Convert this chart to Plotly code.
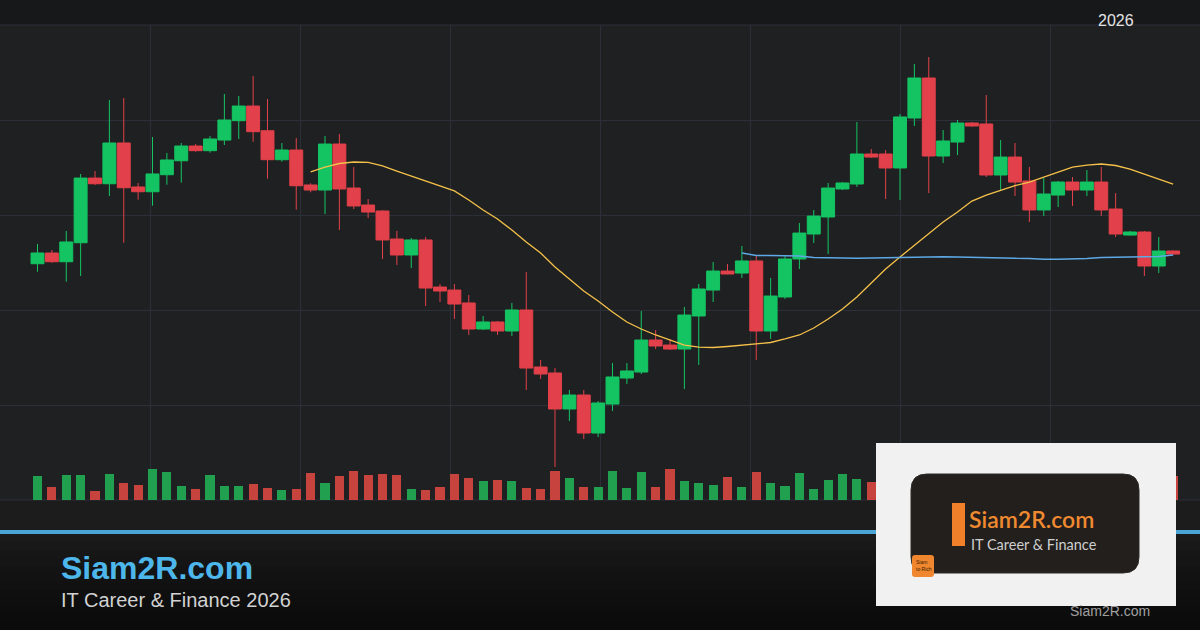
import plotly.graph_objects as go

# ---------------- data ----------------
candle_index = list(range(80))
open_ = [114.87,116.00,115.08,117.08,123.89,123.29,127.58,122.95,122.45,124.24,
         125.71,127.26,126.77,127.89,129.93,131.47,128.87,125.82,126.84,123.16,
         122.63,127.47,122.84,121.05,120.42,117.47,115.79,117.37,112.42,112.10,
         110.74,108.00,108.74,107.79,110.00,104.00,103.37,99.58,101.05,97.05,
         100.10,102.84,103.47,106.84,106.31,105.89,109.37,112.10,114.10,113.89,
         115.16,107.79,111.37,115.37,118.00,119.79,122.74,123.26,126.42,126.42,
         124.95,130.21,134.42,126.21,127.68,129.68,129.58,124.21,126.10,123.58,
         120.53,122.10,123.47,122.63,123.47,120.63,117.89,118.21,114.63,116.21]
high_ = [116.95,116.32,118.32,124.32,124.63,132.10,132.31,123.37,128.21,126.53,
         127.58,127.47,128.31,132.74,132.53,134.63,132.21,127.58,128.10,123.34,
         128.31,128.53,125.05,121.68,120.50,118.32,117.58,117.68,112.74,112.74,
         111.58,109.37,108.84,110.74,114.00,104.74,103.89,101.58,101.58,100.42,
         104.42,104.42,109.89,107.89,106.95,110.31,112.74,115.05,114.84,116.74,
         115.79,113.37,115.68,119.16,120.53,123.37,123.47,129.79,126.95,126.84,
         130.63,135.89,136.63,128.95,130.00,129.79,132.63,127.89,127.58,125.05,
         123.89,123.58,124.00,124.74,125.05,122.31,118.32,118.32,117.68,116.26]
low_ = [114.03,114.98,112.98,113.58,123.16,122.00,117.08,121.61,120.98,123.19,
        123.40,126.66,126.56,127.37,128.00,127.71,123.82,125.61,120.56,122.39,
        120.10,118.42,120.63,119.68,115.37,114.74,114.42,110.42,110.84,109.05,
        107.37,107.89,107.37,107.26,101.58,102.74,93.47,98.32,96.42,96.63,
        99.37,102.21,103.26,105.89,105.79,101.68,104.21,110.84,113.75,113.37,
        104.74,106.95,111.16,114.31,117.05,115.89,122.63,122.95,126.00,121.68,
        121.58,129.37,122.31,125.47,126.31,129.30,124.00,122.63,122.00,119.26,
        119.89,120.84,120.95,122.00,119.89,117.68,117.84,113.58,113.89,115.84]
close_ = [116.00,115.08,117.16,123.89,123.29,127.58,122.87,122.45,124.32,125.79,
          127.26,126.77,128.00,130.00,131.47,128.77,125.82,126.84,123.08,122.63,
          127.47,122.74,120.95,120.31,117.37,115.79,117.37,112.31,112.00,110.63,
          108.00,108.74,107.79,110.00,103.89,103.26,99.58,101.05,97.05,100.21,
          102.95,103.58,106.84,106.21,105.89,109.47,112.21,114.10,113.79,115.16,
          107.79,111.47,115.37,118.10,119.89,122.84,123.37,126.42,126.10,124.95,
          130.32,134.42,126.21,127.79,129.68,129.37,124.21,126.10,123.47,120.53,
          122.21,123.47,122.63,123.47,120.53,118.00,118.21,114.63,116.21,115.89]
volume_k = [240,130,250,250,90,260,170,150,310,280,
            140,110,250,140,140,160,120,100,110,270,
            170,240,290,250,260,250,110,100,130,260,
            220,190,200,190,120,110,290,220,130,130,
            290,120,280,130,310,190,170,150,230,130,
            280,170,140,270,110,200,260,210,180,220,
            270,300,310,150,180,100,240,140,200,230,
            160,140,120,110,130,220,140,260,170,240]
ma_slow_start = 19
ma_slow = [124.53,125.05,125.42,125.58,125.53,125.16,124.63,124.10,123.58,123.05,
           122.53,121.58,120.53,119.58,118.42,117.16,116.00,114.53,113.26,112.00,
           110.95,109.79,108.74,108.00,107.37,106.84,106.31,106.10,106.05,106.16,
           106.31,106.42,106.58,106.95,107.37,108.10,109.05,110.10,111.37,112.84,
           114.31,115.58,116.84,118.10,119.26,120.31,121.47,122.10,122.63,123.10,
           123.47,124.00,124.53,125.05,125.26,125.37,125.21,124.84,124.31,123.79,
           123.26]
ma_long_start = 49
ma_long = [116.00,115.74,115.74,115.74,115.68,115.53,115.47,115.47,115.44,115.47,
           115.53,115.53,115.58,115.61,115.61,115.58,115.53,115.47,115.44,115.44,
           115.42,115.34,115.34,115.37,115.42,115.53,115.58,115.61,115.61,115.63,
           115.79]

year_label = "2026"
brand = "Siam2R.com"
tagline = "IT Career & Finance 2026"
logo_tag = "IT Career & Finance"

# ---------------- styles ----------------
W, H = 1200, 630
GREEN = "#14c463"
RED = "#e2404a"
VGREEN = "#21a04f"
VRED = "#c6433e"
GRID = "#2b2f38"
BG = "#1f2021"


def X(px):
    return px / W


def Y(py):
    return 1 - py / H


fig = go.Figure()

vol_colors = [VGREEN if c >= o else VRED for o, c in zip(open_, close_)]
fig.add_trace(go.Bar(x=candle_index, y=volume_k, marker=dict(color=vol_colors, line=dict(width=0)),
                     width=0.63, yaxis="y2", hoverinfo="skip", showlegend=False))

fig.add_trace(go.Candlestick(
    x=candle_index, open=open_, high=high_, low=low_, close=close_,
    increasing=dict(line=dict(color=GREEN, width=1), fillcolor=GREEN),
    decreasing=dict(line=dict(color=RED, width=1), fillcolor=RED),
    whiskerwidth=0, showlegend=False, hoverinfo="skip"))

fig.add_trace(go.Scatter(x=candle_index[ma_slow_start:ma_slow_start + len(ma_slow)], y=ma_slow,
                         mode="lines", line=dict(color="#f5c14a", width=1.3),
                         showlegend=False, hoverinfo="skip"))
fig.add_trace(go.Scatter(x=candle_index[ma_long_start:ma_long_start + len(ma_long)], y=ma_long,
                         mode="lines", line=dict(color="#5ea9e6", width=1.4),
                         showlegend=False, hoverinfo="skip"))

step = 14.375
x0 = 37.5

shapes = []
# top band
shapes.append(dict(type="rect", xref="paper", yref="paper", x0=0, x1=1, y0=Y(25), y1=1,
                   fillcolor="#17181a", line=dict(width=0), layer="below"))
# strip under the chart
shapes.append(dict(type="rect", xref="paper", yref="paper", x0=0, x1=1, y0=Y(530), y1=Y(500),
                   fillcolor="#1c1c1c", line=dict(width=0), layer="below"))
# footer gradient
foot_cols = ["#1a1a1a", "#181818", "#161616", "#151515", "#131313", "#121212",
             "#111111", "#0f0f0f", "#0e0e0e", "#0d0d0d", "#0c0c0c", "#0b0b0b"]
top = 534
hstep = (630 - 534) / len(foot_cols)
for k, col in enumerate(foot_cols):
    shapes.append(dict(type="rect", xref="paper", yref="paper", x0=0, x1=1,
                       y0=Y(top + (k + 1) * hstep + 0.5), y1=Y(top + k * hstep),
                       fillcolor=col, line=dict(width=0), layer="below"))
# blue separator
shapes.append(dict(type="rect", xref="paper", yref="paper", x0=0, x1=1, y0=Y(534), y1=Y(530),
                   fillcolor="#4ba5d6", line=dict(width=0)))
# grid edges
for py in (25, 500):
    shapes.append(dict(type="line", xref="paper", yref="paper", x0=0, x1=1, y0=Y(py), y1=Y(py),
                       line=dict(color=GRID, width=1), layer="below"))

# logo box
shapes.append(dict(type="rect", xref="paper", yref="paper", x0=X(876), x1=X(1176), y0=Y(606), y1=Y(443),
                   fillcolor="#f1f1f1", line=dict(width=0)))


def rounded(px0, py0, px1, py1, r):
    ax0, ax1 = X(px0), X(px1)
    ay0, ay1 = Y(py1), Y(py0)
    rx, ry = r / W, r / H
    return (f"M {ax0+rx},{ay1} L {ax1-rx},{ay1} Q {ax1},{ay1} {ax1},{ay1-ry} "
            f"L {ax1},{ay0+ry} Q {ax1},{ay0} {ax1-rx},{ay0} L {ax0+rx},{ay0} "
            f"Q {ax0},{ay0} {ax0},{ay0+ry} L {ax0},{ay1-ry} Q {ax0},{ay1} {ax0+rx},{ay1} Z")


shapes.append(dict(type="path", xref="paper", yref="paper", path=rounded(911, 474, 1139, 573, 16),
                   fillcolor="#221f1d", line=dict(color="#2e2a27", width=1)))
shapes.append(dict(type="rect", xref="paper", yref="paper", x0=X(952), x1=X(965), y0=Y(546), y1=Y(503),
                   fillcolor="#f0802a", line=dict(width=0)))
shapes.append(dict(type="path", xref="paper", yref="paper", path=rounded(912, 555, 934, 577, 3),
                   fillcolor="#f0862e", line=dict(width=0)))

annotations = [
    dict(text=year_label, x=X(1116), y=Y(20), xref="paper", yref="paper", showarrow=False,
         xanchor="center", yanchor="middle", font=dict(family="Liberation Sans, Arial", size=16, color="#e4e4e4")),
    dict(text=f"<b>{brand}</b>", x=X(59), y=Y(568), xref="paper", yref="paper", showarrow=False,
         xanchor="left", yanchor="middle", font=dict(family="Liberation Sans, Arial", size=32, color="#4db6ea")),
    dict(text=tagline, x=X(59), y=Y(600), xref="paper", yref="paper", showarrow=False,
         xanchor="left", yanchor="middle", font=dict(family="Liberation Sans, Arial", size=20, color="#d2d2d2")),
    dict(text=brand, x=X(968), y=Y(534), xref="paper", yref="paper", showarrow=False,
         xanchor="left", yanchor="bottom", borderpad=0,
         font=dict(family="Lato, Open Sans", size=23, color="#f08a30", weight=600)),
    dict(text=logo_tag, x=X(970), y=Y(534.5), xref="paper", yref="paper", showarrow=False,
         xanchor="left", yanchor="top", borderpad=0,
         font=dict(family="Lato, Open Sans", size=14.5, color="#cfcfcf")),
    dict(text="Siam<br>to Rich", x=X(914), y=Y(565), xref="paper", yref="paper", showarrow=False,
         xanchor="left", yanchor="middle", align="left",
         font=dict(family="Liberation Sans, Arial", size=5, color="#3a1d00")),
    dict(text=brand, x=X(1110), y=Y(611), xref="paper", yref="paper", showarrow=False,
         xanchor="center", yanchor="middle", font=dict(family="Liberation Sans, Arial", size=14, color="#a0a0a0")),
]

fig.update_layout(
    width=W, height=H,
    margin=dict(l=0, r=0, t=0, b=0),
    paper_bgcolor=BG, plot_bgcolor=BG,
    boxgap=0.1, boxgroupgap=0, bargap=0,
    showlegend=False,
    xaxis=dict(domain=[0, 1], range=[-x0 / step, (W - x0) / step],
               tickmode="linear", tick0=(150 - x0) / step, dtick=150 / step,
               showgrid=True, gridcolor=GRID, gridwidth=1,
               showticklabels=False, zeroline=False, showline=False, ticks="",
               rangeslider=dict(visible=False), fixedrange=True),
    yaxis=dict(domain=[Y(500), Y(25)], range=[90, 140], tickmode="linear", tick0=90, dtick=10,
               showgrid=True, gridcolor=GRID, gridwidth=1,
               showticklabels=False, zeroline=False, showline=False, ticks="", fixedrange=True),
    yaxis2=dict(domain=[Y(500), Y(25)], overlaying="y", range=[0, 4750], visible=False,
                showgrid=False, fixedrange=True),
    shapes=shapes,
    annotations=annotations,
)

fig.write_html("out.html", config={"displayModeBar": False},
               post_script="document.body.style.margin='0';document.body.style.overflow='hidden';")
